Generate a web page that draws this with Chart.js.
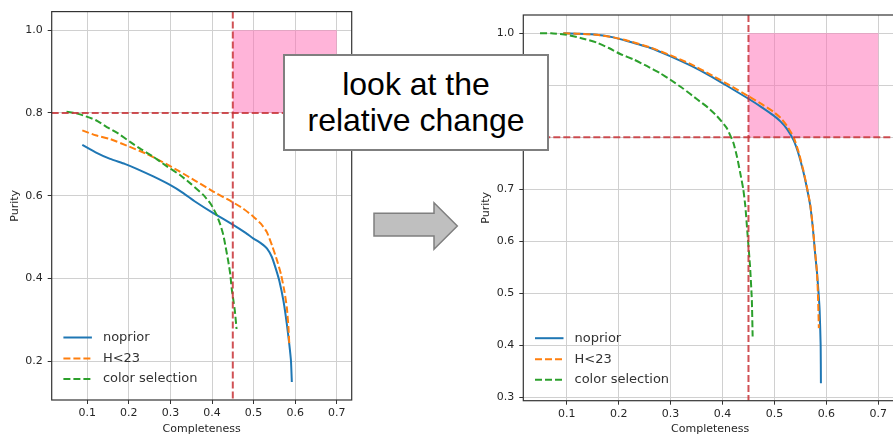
<!DOCTYPE html>
<html>
<head>
<meta charset="utf-8">
<script src="https://cdn.jsdelivr.net/npm/chart.js@4.4.0/dist/chart.umd.min.js"></script>
<style>
html,body{margin:0;padding:0;background:#fff;}
body{position:relative;width:893px;height:436px;overflow:hidden;}
#wl{position:absolute;left:0;top:0;width:360px;height:436px;}
#wr{position:absolute;left:470px;top:0;width:440px;height:436px;}
#arrow{position:absolute;left:0;top:0;}
#note{position:absolute;left:283px;top:54px;width:266px;height:97px;box-sizing:border-box;border:2px solid #7f7f7f;background:#fff;
  font-family:"Liberation Sans",Arial,sans-serif;font-size:32px;line-height:36px;text-align:center;color:#000;padding-top:10px;}
</style>
</head>
<body>
<div id="wl"><canvas id="cl" width="360" height="436"></canvas></div>
<div id="wr"><canvas id="cr" width="440" height="436"></canvas></div>
<svg id="arrow" width="893" height="436"><polygon points="374,213.3 434,213.3 434,202.7 457.3,226 434,249.3 434,236 374,236" fill="#bfbfbf" stroke="#7f7f7f" stroke-width="1.5"/></svg>
<div id="note">look at the<br>relative change</div>
<script>
// ---------- data ----------
const seriesLabels = ['noprior', 'H<23', 'color selection'];
const xTickValues = [0.1, 0.2, 0.3, 0.4, 0.5, 0.6, 0.7];
const leftYTickValues = [0.2, 0.4, 0.6, 0.8, 1.0];
const rightYTickValues = [0.3, 0.4, 0.5, 0.6, 0.7, 0.8, 0.9, 1.0];
const completenessCut = 0.45;
const purityCut = 0.8;
const targetBoxX = [0.45, 0.7];
const targetBoxY = [0.8, 1.0];

// left panel (absolute purity)
const leftNopriorX = [0.088, 0.12, 0.155, 0.19, 0.219, 0.26, 0.299, 0.33, 0.359, 0.403, 0.449, 0.48, 0.499, 0.518, 0.532, 0.544, 0.553, 0.562, 0.572, 0.580, 0.586, 0.590, 0.592];
const leftNopriorY = [0.723, 0.705, 0.689, 0.677, 0.665, 0.646, 0.626, 0.607, 0.586, 0.558, 0.531, 0.511, 0.497, 0.485, 0.473, 0.452, 0.425, 0.394, 0.345, 0.29, 0.24, 0.2, 0.15];
const leftH23X = [0.088, 0.12, 0.155, 0.2, 0.243, 0.28, 0.323, 0.36, 0.403, 0.447, 0.475, 0.499, 0.518, 0.532, 0.545, 0.556, 0.566, 0.574, 0.580, 0.584, 0.586];
const leftH23Y = [0.758, 0.746, 0.737, 0.719, 0.701, 0.682, 0.658, 0.636, 0.610, 0.586, 0.569, 0.550, 0.532, 0.512, 0.478, 0.445, 0.41, 0.37, 0.33, 0.28, 0.238];
const leftColorX = [0.050, 0.070, 0.090, 0.12, 0.147, 0.175, 0.203, 0.23, 0.259, 0.29, 0.323, 0.35, 0.379, 0.397, 0.411, 0.42, 0.427, 0.433, 0.439, 0.444, 0.447, 0.451, 0.455, 0.459];
const leftColorY = [0.803, 0.800, 0.794, 0.783, 0.766, 0.750, 0.730, 0.712, 0.694, 0.672, 0.650, 0.628, 0.602, 0.580, 0.554, 0.530, 0.506, 0.475, 0.442, 0.41, 0.378, 0.35, 0.322, 0.278];

// right panel (relative purity)
const rightNopriorX = [0.0935, 0.12, 0.158, 0.19, 0.216, 0.26, 0.299, 0.34, 0.376, 0.41, 0.45, 0.475, 0.498, 0.512, 0.524, 0.537, 0.547, 0.556, 0.563, 0.569, 0.574, 0.578, 0.582, 0.585, 0.587, 0.589, 0.5895];
const rightNopriorY = [1.0, 0.999, 0.997, 0.992, 0.985, 0.972, 0.956, 0.937, 0.918, 0.898, 0.874, 0.858, 0.842, 0.830, 0.816, 0.794, 0.766, 0.732, 0.700, 0.668, 0.625, 0.580, 0.539, 0.50, 0.468, 0.40, 0.327];
const rightH23X = [0.0935, 0.12, 0.158, 0.19, 0.216, 0.26, 0.299, 0.34, 0.376, 0.41, 0.45, 0.475, 0.498, 0.512, 0.524, 0.537, 0.547, 0.556, 0.563, 0.569, 0.574, 0.578, 0.582, 0.584, 0.5855];
const rightH23Y = [1.0, 0.999, 0.997, 0.992, 0.986, 0.973, 0.958, 0.940, 0.921, 0.902, 0.879, 0.864, 0.849, 0.837, 0.822, 0.800, 0.770, 0.735, 0.702, 0.670, 0.627, 0.582, 0.540, 0.49, 0.433];
const rightColorX = [0.0486, 0.07, 0.1, 0.13, 0.158, 0.18, 0.203, 0.23, 0.254, 0.28, 0.299, 0.325, 0.351, 0.372, 0.389, 0.408, 0.421, 0.428, 0.434, 0.44, 0.444, 0.448, 0.453, 0.4565, 0.458];
const rightColorY = [1.0, 1.0, 0.997, 0.99, 0.982, 0.972, 0.960, 0.949, 0.937, 0.923, 0.911, 0.893, 0.873, 0.857, 0.841, 0.818, 0.789, 0.762, 0.732, 0.70, 0.667, 0.616, 0.552, 0.487, 0.417];

// ---------- helpers ----------
const pts = (xs, ys) => xs.map((x, i) => ({x: x, y: ys[i]}));
const FONT = 'DejaVu Sans';
const TXT = '#262626';
const styles = [
  {color: '#1f77b4', dash: []},
  {color: '#ff7f0e', dash: [7, 3]},
  {color: '#2ca02c', dash: [7, 3]}
];

function makeChart(id, seriesPts, yTicks, xr, yr, geo) {
  const datasets = seriesPts.map((p, i) => ({
    label: seriesLabels[i],
    data: p,
    borderColor: styles[i].color,
    borderDash: styles[i].dash,
    borderWidth: 2,
    pointRadius: 0,
    fill: false,
    tension: 0.15,
    order: 3 - i
  }));
  const overlay = {
    id: 'overlay',
    beforeDatasetsDraw(chart) {
      const {ctx, scales: {x, y}} = chart;
      ctx.save();
      ctx.fillStyle = 'rgba(255,105,180,0.5)';
      const x0 = x.getPixelForValue(targetBoxX[0]), x1 = x.getPixelForValue(targetBoxX[1]);
      const y0 = y.getPixelForValue(targetBoxY[1]), y1 = y.getPixelForValue(targetBoxY[0]);
      ctx.fillRect(x0, y0, x1 - x0, y1 - y0);
      ctx.restore();
    },
    afterDatasetsDraw(chart) {
      const {ctx, chartArea: a, scales: {x, y}} = chart;
      ctx.save();
      ctx.beginPath(); ctx.rect(a.left, a.top, a.right - a.left, a.bottom - a.top); ctx.clip();
      ctx.strokeStyle = 'rgba(200,50,55,0.85)';
      ctx.lineWidth = 2;
      ctx.setLineDash([7, 3]);
      const vx = x.getPixelForValue(completenessCut);
      ctx.beginPath(); ctx.moveTo(vx, a.top); ctx.lineTo(vx, a.bottom); ctx.stroke();
      const hy = y.getPixelForValue(purityCut);
      ctx.beginPath(); ctx.moveTo(a.left, hy); ctx.lineTo(a.right, hy); ctx.stroke();
      ctx.restore();
      // frame
      ctx.save();
      ctx.strokeStyle = '#333';
      ctx.lineWidth = 1.2;
      ctx.strokeRect(a.left, a.top, a.right - a.left, a.bottom - a.top);
      ctx.restore();
      // legend
      ctx.save();
      ctx.font = '13px "' + FONT + '"';
      ctx.textBaseline = 'middle';
      ctx.fillStyle = '#333';
      const rows = [62.5, 41.5, 21];
      chart.data.datasets.forEach((d, i) => {
        const yy = a.bottom - rows[i];
        const lx = a.left + 11.7;
        ctx.strokeStyle = d.borderColor;
        ctx.lineWidth = 2;
        ctx.setLineDash(d.borderDash);
        ctx.beginPath(); ctx.moveTo(lx, yy); ctx.lineTo(lx + 28.5, yy); ctx.stroke();
        ctx.setLineDash([]);
        ctx.fillText(d.label, lx + 39.5, yy);
      });
      ctx.restore();
    }
  };
  const tickFont = {family: FONT, size: 11};
  return new Chart(document.getElementById(id), {
    type: 'line',
    data: {datasets: datasets},
    options: {
      responsive: false,
      animation: false,
      layout: {padding: {left: 0, top: geo.top, right: geo.right, bottom: 0}},
      plugins: {legend: {display: false}, tooltip: {enabled: false}},
      scales: {
        x: {
          type: 'linear', min: xr[0], max: xr[1],
          afterBuildTicks: s => { s.ticks = xTickValues.map(v => ({value: v})); },
          afterFit: s => { s.height = geo.xh; },
          grid: {color: '#d0d0d0', lineWidth: 1, tickLength: 4, tickColor: '#333', drawTicks: true},
          border: {display: false},
          ticks: {color: TXT, font: tickFont, padding: 3, maxRotation: 0, autoSkip: false, callback: v => Number(v).toFixed(1)},
          title: {display: true, text: 'Completeness', color: TXT, font: tickFont, padding: {top: 0, bottom: 0}}
        },
        y: {
          type: 'linear', min: yr[0], max: yr[1],
          afterBuildTicks: s => { s.ticks = yTicks.map(v => ({value: v})); },
          afterFit: s => { s.width = geo.yw; },
          grid: {color: '#d0d0d0', lineWidth: 1, tickLength: 4, tickColor: '#333', drawTicks: true},
          border: {display: false},
          ticks: {color: TXT, font: tickFont, padding: 5, autoSkip: false, callback: v => Number(v).toFixed(1)},
          title: {display: true, text: 'Purity', color: TXT, font: tickFont, padding: {top: geo.tp, bottom: 0}}
        }
      }
    },
    plugins: [overlay]
  });
}

makeChart('cl',
  [pts(leftNopriorX, leftNopriorY), pts(leftH23X, leftH23Y), pts(leftColorX, leftColorY)],
  leftYTickValues, [0.0144, 0.736], [0.1064, 1.0449],
  {top: 9, right: 8.3, yw: 51.7, xh: 36, tp: 8.5});

makeChart('cr',
  [pts(rightNopriorX, rightNopriorY), pts(rightH23X, rightH23Y), pts(rightColorX, rightColorY)],
  rightYTickValues, [0.0164, 0.736], [0.2935, 1.035],
  {top: 15, right: 13, yw: 53.3, xh: 35.3, tp: 10});
</script>
</body>
</html>
